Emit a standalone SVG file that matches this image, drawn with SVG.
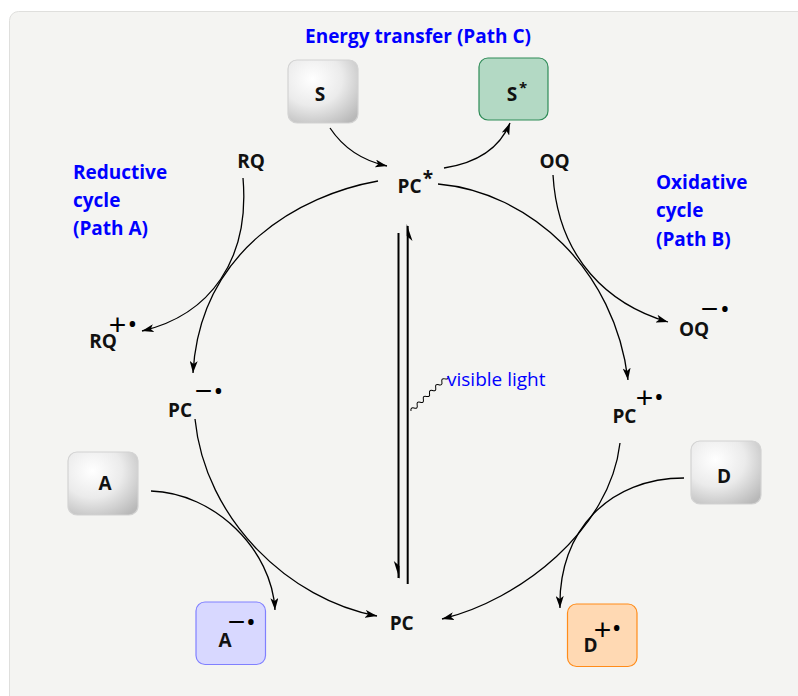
<svg xmlns="http://www.w3.org/2000/svg" width="798" height="696" viewBox="0 0 798 696">
<defs>
<style>
.lbl{font-family:"Open Sans","Liberation Sans",sans-serif;font-weight:700;font-size:19px;fill:#111;text-anchor:middle}
.blue{font-family:"Open Sans","Liberation Sans",sans-serif;font-weight:700;font-size:19px;fill:#0000ff}
.star{font-family:"Open Sans","Liberation Sans",sans-serif;font-weight:700;font-size:19px;fill:#111;text-anchor:middle}
.sign{font-family:"Liberation Sans",sans-serif;font-weight:400;font-size:30px;fill:#000}
.dot{font-family:"Open Sans",sans-serif;font-weight:400;font-size:26px;fill:#000}
.conn{fill:none;stroke:#000;stroke-width:1.3}
.box{stroke:#d2d2d2;stroke-width:1.2;fill:url(#gray)}
</style>
<radialGradient id="gray" cx="0.35" cy="0.3" r="0.85">
<stop offset="0" stop-color="#ffffff"/>
<stop offset="0.5" stop-color="#ebebeb"/>
<stop offset="1" stop-color="#b9b9b9"/>
</radialGradient>
<marker id="ah" viewBox="0 0 12 8" refX="12" refY="4" markerWidth="12" markerHeight="8" markerUnits="userSpaceOnUse" orient="auto">
<path d="M0,0 L12,4 L0,8 L3,4 Z" fill="#000"/>
</marker>
</defs>
<rect x="9.5" y="11.5" width="820" height="720" rx="9" fill="#f4f4f2" stroke="#dfdfdd"/>

<g id="connectors">
<path class="conn" marker-end="url(#ah)" d="M330,128 Q350,158 387,166"/>
<path class="conn" marker-end="url(#ah)" d="M444,168 Q495,160 510,123"/>
<path class="conn" marker-end="url(#ah)" d="M378,181 C300,195 200,250 193,373"/>
<path class="conn" marker-end="url(#ah)" d="M243,178 C250,260 210,315 142,331"/>
<path class="conn" marker-end="url(#ah)" d="M438,184 C530,192 615,270 628,380"/>
<path class="conn" marker-end="url(#ah)" d="M553,175 C558,260 610,305 668,322"/>
<path class="conn" marker-end="url(#ah)" d="M195,419 C205,520 290,600 377,616"/>
<path class="conn" marker-end="url(#ah)" d="M151,491 C215,493 272,550 275,610"/>
<path class="conn" marker-end="url(#ah)" d="M620,443 C610,530 520,600 442,619"/>
<path class="conn" marker-end="url(#ah)" d="M684,478 C610,478 558,530 560,608"/>
<line x1="398.5" y1="233" x2="398.5" y2="578" stroke="#000" stroke-width="2"/>
<polygon points="399.5,579 393.8,561 399.5,566" fill="#000"/>
<line x1="407.7" y1="226" x2="407.7" y2="584" stroke="#000" stroke-width="2"/>
<polygon points="406.7,224 412.5,241 406.7,236" fill="#000"/>
<path transform="translate(411,411) rotate(-43.4)" fill="none" stroke="#000" stroke-width="1" d="M0,0 q2.125,-3.4 4.25,0 t4.25,0 t4.25,0 t4.25,0 t4.25,0 t4.25,0 t4.25,0 t4.25,0 t4.25,0 t4.25,0 t4.25,0 t4.25,0"/>
</g>

<g id="title"><text class="blue" x="418" y="43" text-anchor="middle">Energy transfer (Path C)</text></g>
<g id="label-reductive">
<text class="blue" x="73" y="179">Reductive</text>
<text class="blue" x="73" y="207">cycle</text>
<text class="blue" x="73" y="235">(Path A)</text>
</g>
<g id="label-oxidative">
<text class="blue" x="656" y="189">Oxidative</text>
<text class="blue" x="656" y="217">cycle</text>
<text class="blue" x="656" y="246">(Path B)</text>
</g>
<g id="label-light">
<text x="447" y="386" font-family="'Open Sans','Liberation Sans',sans-serif" font-size="19" fill="#0000ff">visible light</text>
</g>

<g id="node-S">
<rect class="box" x="288" y="60" width="70" height="63" rx="9"/>
<text class="lbl" x="320" y="101">S</text>
</g>
<g id="node-Sstar">
<rect x="479" y="58" width="69" height="62" rx="9" fill="#b3d9c4" stroke="#2e8b57" stroke-width="1.2"/>
<text class="lbl" x="512" y="101">S<tspan x="523" y="93" font-size="15">*</tspan></text>
</g>
<g id="node-PCstar">
<text class="lbl" x="409.5" y="192.5">PC<tspan x="428" y="185">*</tspan></text>
</g>
<g id="node-RQ"><text class="lbl" x="251" y="168">RQ</text></g>
<g id="node-OQ"><text class="lbl" x="554.5" y="168">OQ</text></g>
<g id="node-RQrad">
<text class="lbl" x="103" y="348">RQ<tspan class="sign" x="117.5" y="334.5">+</tspan><tspan class="dot" x="132.3" y="333">•</tspan></text>
</g>
<g id="node-OQrad">
<text class="lbl" x="694" y="336">OQ<tspan class="sign" x="709.5" y="319">−</tspan><tspan class="dot" x="725" y="318">•</tspan></text>
</g>
<g id="node-PCminus">
<text class="lbl" x="180" y="416.7">PC<tspan class="sign" x="203.5" y="401">−</tspan><tspan class="dot" x="218.3" y="400">•</tspan></text>
</g>
<g id="node-PCplus">
<text class="lbl" x="624.4" y="423">PC<tspan class="sign" x="644.5" y="407.5">+</tspan><tspan class="dot" x="659" y="406">•</tspan></text>
</g>
<g id="node-PC">
<text class="lbl" x="401.7" y="630">PC</text>
</g>
<g id="node-A">
<rect class="box" x="68" y="452" width="70" height="63" rx="9"/>
<text class="lbl" x="105" y="490">A</text>
</g>
<g id="node-Arad">
<rect x="196" y="602" width="69.5" height="62.5" rx="9" fill="#d8d8ff" stroke="#8080ff" stroke-width="1.2"/>
<text class="lbl" x="225" y="647">A<tspan class="sign" x="236.5" y="632">−</tspan><tspan class="dot" x="251" y="631">•</tspan></text>
</g>
<g id="node-D">
<rect class="box" x="691" y="441" width="70" height="63" rx="9"/>
<text class="lbl" x="724" y="483">D</text>
</g>
<g id="node-Drad">
<rect x="567.5" y="604" width="69.5" height="62.5" rx="9" fill="#ffd9b3" stroke="#ff8c1a" stroke-width="1.2"/>
<text class="lbl" x="590.5" y="652">D<tspan class="sign" x="602.5" y="639.5">+</tspan><tspan class="dot" x="616.7" y="637">•</tspan></text>
</g>
</svg>
